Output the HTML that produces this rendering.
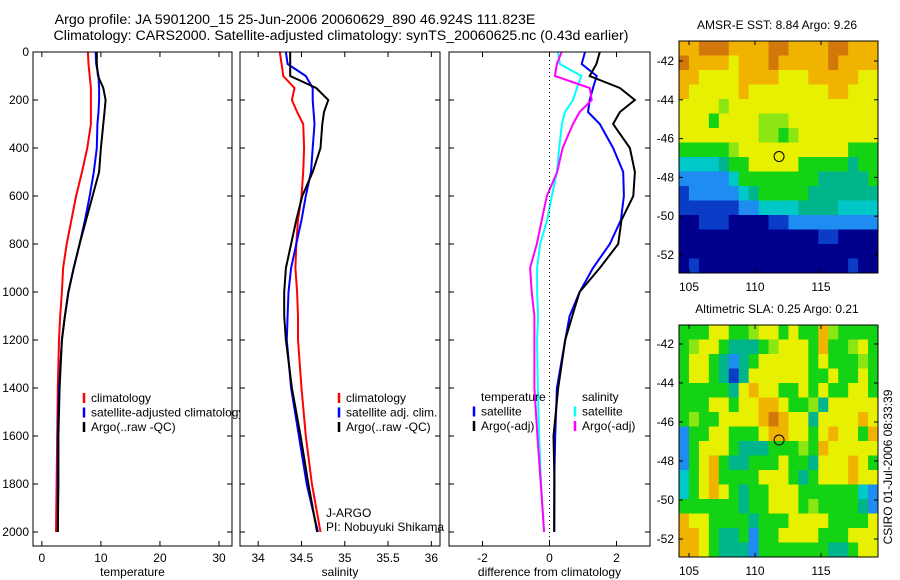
<!DOCTYPE html>
<html><head><meta charset="utf-8"><style>
body{margin:0;background:#fff}
svg{display:block;font-family:"Liberation Sans",sans-serif}
</style></head><body>
<svg id="fig" width="900" height="580" viewBox="0 0 900 580" xmlns="http://www.w3.org/2000/svg">
<rect width="900" height="580" fill="#fff"/>
<text x="295" y="24" font-size="14.2" text-anchor="middle">Argo profile: JA 5901200_15 25-Jun-2006 20060629_890 46.924S 111.823E</text>
<text x="341" y="40" font-size="14.2" text-anchor="middle">Climatology: CARS2000. Satellite-adjusted climatology: synTS_20060625.nc (0.43d earlier)</text>
<g id="plots"></g>
</svg>
<script>
const depths=[0,50,100,150,200,250,300,400,500,600,700,800,900,1000,1100,1200,1400,1600,1800,2000];
const tempClim=[7.8,7.9,8.1,8.3,8.3,8.3,8.3,7.7,6.8,5.8,5.0,4.2,3.6,3.4,3.1,2.9,2.7,2.6,2.5,2.4];
const tempSat=[9.1,9.2,9.6,9.7,9.7,9.6,9.4,9.3,8.8,8.1,7.3,6.4,5.4,4.5,3.9,3.4,2.9,2.7,2.7,2.7];
const tempArgo=[9.3,9.3,9.5,10.4,10.8,10.6,10.4,10.0,9.7,8.6,7.5,6.4,5.4,4.5,3.9,3.4,3.0,2.8,2.8,2.7];
const salClim=[34.25,34.27,34.29,34.42,34.39,34.45,34.52,34.53,34.52,34.50,34.46,34.44,34.43,34.45,34.46,34.46,34.50,34.55,34.62,34.72];
const salSat=[34.32,34.34,34.55,34.63,34.63,34.64,34.65,34.63,34.61,34.55,34.50,34.44,34.38,34.35,34.34,34.33,34.38,34.47,34.56,34.69];
const salArgo=[34.37,34.37,34.37,34.67,34.81,34.76,34.74,34.72,34.63,34.51,34.44,34.38,34.32,34.30,34.30,34.32,34.39,34.49,34.58,34.68];
const diffTempArgo=[1.5,1.4,1.2,2.1,2.55,2.1,1.9,2.4,2.55,2.5,2.15,2.05,1.5,0.9,0.68,0.47,0.26,0.12,0.15,0.14];
const diffTempSat=[1.06,0.96,1.41,1.3,1.2,1.15,1.5,1.9,2.2,2.22,2.13,1.8,1.3,0.9,0.6,0.47,0.22,0.17,0.14,0.14];
const diffSalSat=[0.25,0.31,0.95,0.82,0.7,0.46,0.37,0.29,0.22,0.07,-0.07,-0.28,-0.37,-0.37,-0.34,-0.37,-0.35,-0.31,-0.25,-0.16];
const diffSalArgo=[0.36,0.22,0.16,1.2,1.26,0.9,0.7,0.39,0.23,-0.08,-0.23,-0.38,-0.58,-0.53,-0.45,-0.45,-0.45,-0.36,-0.26,-0.16];
const depthTicks=[0,200,400,600,800,1000,1200,1400,1600,1800,2000];
const tempTicks=[0,10,20,30];
const salTicks=[34,34.5,35,35.5,36];
const diffTicks=[-2,0,2];
const lonTicks=[105,110,115];
const latTicks=[-42,-44,-46,-48,-50,-52];
const sstGrid=["OORRROOOORROOOORROOO","ROOOOyOOOROOOOOROOOO","OOyyyyOOOOyyyOOOOOyy","OyyyyyOyyyyyyyyOOyyy","yyyygyyyyyyyyyyyyyyy","yyyGyyyygggyyyyyyyyy","yyyyyyyyggGgyyyyyyyy","GGGGGgyyyyyyyyyyyGGG","CCCCTGGyyyyyGGGGGTGG","LLLLLCGGGGGGGGTTTTTG","BLLLLLCTGGGGGTTTTTTT","BBBBBBLLCCCCTTTTCCCC","DDBBBDDDDBBLLLLLLLLL","DDDDDDDDDDDDDDBBDDDD","DDDDDDDDDDDDDDDDDDDD","DBDDDDDDDDDDDDDDDBDD"];
const slaGrid=["GGGyyGGgyyGyGGOgGGGG","GgyyGTTTGgyyyGOGGgyG","GyyGTLTGyyyyyGyGGGgG","GyyGTBTyyyyyyGGyGGyG","GGGGGTyOyyGGyGyGGyyG","GGGyyGyyOOyGGgTyyyyy","GgGGyyyyOROyyTyyyyOy","LGGyyGGGyOOyyGyOyyGO","LGyyyGTTTGGGgGOyyyyy","LGyOGTTGGGyGGTyyyOyG","CGyOGGGGyyyGTGyyyOyy","CGyOyGTGGyyyGGGGGGCL","GGGGGGTGGyyyGgGGGGTL","OyyGGGGTGGGyyyyGGGGy","OOyGTTGLGGyyyyGGGyyy","OOyGTTTLGGGGGGGTTGyy"];
const argoLon=111.823, argoLat=-46.924;
const palette={D:"#00008c",B:"#0a3cc8",L:"#1e8cf0",C:"#00c8c8",T:"#00b48c",G:"#14d214",g:"#8ce614",Y:"#dcf000",y:"#e6f000",O:"#f0b400",R:"#d2780a"};

const NS="http://www.w3.org/2000/svg";
const root=document.getElementById('plots');
function mk(tag,attrs,parent){const e=document.createElementNS(NS,tag);for(const k in attrs)e.setAttribute(k,attrs[k]);(parent||root).appendChild(e);return e;}
function txt(s,x,y,opts,parent){const t=mk('text',Object.assign({x:x,y:y,'font-size':12},opts||{}),parent);t.textContent=s;return t;}

const Y0=52,Y1=546;
function yScale(d){return 52+d*0.24;}

function panel(name,x0,x1,dmin,dmax,ticks,xlabel,series,showYLabels){
  const g=mk('g',{});
  
  
  const xs=v=>x0+(v-dmin)/(dmax-dmin)*(x1-x0);
  mk('rect',{x:x0,y:Y0,width:x1-x0,height:Y1-Y0,fill:'#fff'},g);
  depthTicks.forEach(d=>{const y=yScale(d);
    mk('line',{x1:x0,x2:x0+5,y1:y,y2:y,stroke:'#000'},g);
    mk('line',{x1:x1-5,x2:x1,y1:y,y2:y,stroke:'#000'},g);
    if(showYLabels){const t=txt(String(d),x0-4,y+4,{'text-anchor':'end'},g);
      }
  });
  ticks.forEach(v=>{const x=xs(v);
    mk('line',{x1:x,x2:x,y1:Y0,y2:Y0+5,stroke:'#000'},g);
    mk('line',{x1:x,x2:x,y1:Y1-5,y2:Y1,stroke:'#000'},g);
    const t=txt(String(v),x,562,{'text-anchor':'middle'},g);
    
  });
  const xl=txt(xlabel,(x0+x1)/2,576,{'text-anchor':'middle'},g);
  
  series.forEach(s=>{
    const pts=s.vals.map((v,i)=>xs(v).toFixed(1)+','+yScale(depths[i]).toFixed(1)).join(' ');
    const p=mk('polyline',{points:pts,fill:'none',stroke:s.color,'stroke-width':2},g);
    
  });
  mk('rect',{x:x0,y:Y0,width:x1-x0,height:Y1-Y0,fill:'none',stroke:'#000'},g);
  return {g,xs};
}
function legend(g,x,y,items){
  items.forEach((it,i)=>{const yy=y+i*14.5;
    const l=mk('line',{x1:x,x2:x,y1:yy-9,y2:yy+1,stroke:it.c,'stroke-width':2.5},g);
    
    if(it.t){const t=txt(it.t,x+7,yy,{},g);}
  });
}

const p1=panel('temperature-panel',33,232,-1.5,32.2,tempTicks,'temperature',[
 {vals:tempClim,color:'#f00',name:'temp-climatology-line'},
 {vals:tempSat,color:'#00f',name:'temp-satellite-line'},
 {vals:tempArgo,color:'#000',name:'temp-argo-line'}],true);
legend(p1.g,84,402,[{c:'#f00',t:'climatology'},{c:'#00f',t:'satellite-adjusted climatology'},{c:'#000',t:'Argo(..raw -QC)'}]);

const p2=panel('salinity-panel',240,440,33.79,36.1,salTicks,'salinity',[
 {vals:salClim,color:'#f00',name:'sal-climatology-line'},
 {vals:salSat,color:'#00f',name:'sal-satellite-line'},
 {vals:salArgo,color:'#000',name:'sal-argo-line'}],false);
legend(p2.g,339,402,[{c:'#f00',t:'climatology'},{c:'#00f',t:'satellite adj. clim.'},{c:'#000',t:'Argo(..raw -QC)'}]);
let t1=txt('J-ARGO',326,517,{},p2.g);
let t2=txt('PI: Nobuyuki Shikama',326,531,{},p2.g);

const p3=panel('difference-panel',449,650,-3,3,diffTicks,'difference from climatology',[
 {vals:diffTempSat,color:'#00f',name:'diff-temp-satellite-line'},
 {vals:diffTempArgo,color:'#000',name:'diff-temp-argo-line'},
 {vals:diffSalSat,color:'#0ff',name:'diff-sal-satellite-line'},
 {vals:diffSalArgo,color:'#f0f',name:'diff-sal-argo-line'}],false);
const zl=mk('line',{x1:p3.xs(0),x2:p3.xs(0),y1:Y0,y2:Y1,stroke:'#000','stroke-dasharray':'1,3'},p3.g);

let lt=txt('temperature',481,401,{},p3.g);
let ls=txt('salinity',582,401,{},p3.g);
legend(p3.g,474,415.5,[{c:'#00f',t:'satellite'},{c:'#000',t:'Argo(-adj)'}]);
legend(p3.g,575,415.5,[{c:'#0ff',t:'satellite'},{c:'#f0f',t:'Argo(-adj)'}]);

function map(name,top,bottom,lat42,lat52,grid,title){
  const g=mk('g',{});
  
  
  const x0=679,x1=878;
  const lonS=v=>689+(v-105)*13.2;
  const latS=v=>lat42+(v+42)/(-10)*(lat52-lat42);
  const rows=grid.length,cols=grid[0].length,cw=(x1-x0)/cols,ch=(bottom-top)/rows;
  grid.forEach((r,i)=>{for(let j=0;j<cols;j++){
    mk('rect',{x:(x0+j*cw).toFixed(2),y:(top+i*ch).toFixed(2),width:(cw+0.5).toFixed(2),height:(ch+0.5).toFixed(2),fill:palette[r[j]]},g);}});
  lonTicks.forEach(v=>{const x=lonS(v);
    mk('line',{x1:x,x2:x,y1:top,y2:top+4,stroke:'#000'},g);
    mk('line',{x1:x,x2:x,y1:bottom-4,y2:bottom,stroke:'#000'},g);
    const t=txt(String(v),x,bottom+18,{'text-anchor':'middle'},g);});
  latTicks.forEach(v=>{const y=latS(v);
    mk('line',{x1:x0,x2:x0+4,y1:y,y2:y,stroke:'#000'},g);
    mk('line',{x1:x1-4,x2:x1,y1:y,y2:y,stroke:'#000'},g);
    const t=txt(String(v),x0-5,y+4,{'text-anchor':'end'},g);});
  mk('rect',{x:x0,y:top,width:x1-x0,height:bottom-top,fill:'none',stroke:'#000'},g);
  const c=mk('circle',{cx:lonS(argoLon),cy:latS(argoLat),r:5,fill:'none',stroke:'#000'},g);
  
  const tt=txt(title,777,top-12,{'text-anchor':'middle'},g);
}
map('sst-map',41,273,61,255,sstGrid,'AMSR-E SST: 8.84 Argo: 9.26');
map('sla-map',325,557,344,539,slaGrid,'Altimetric SLA: 0.25 Argo: 0.21');
const cs=txt('CSIRO 01-Jul-2006 08:33:39',0,0,{'text-anchor':'middle',transform:'translate(892,467) rotate(-90)'});

</script>
</body></html>
